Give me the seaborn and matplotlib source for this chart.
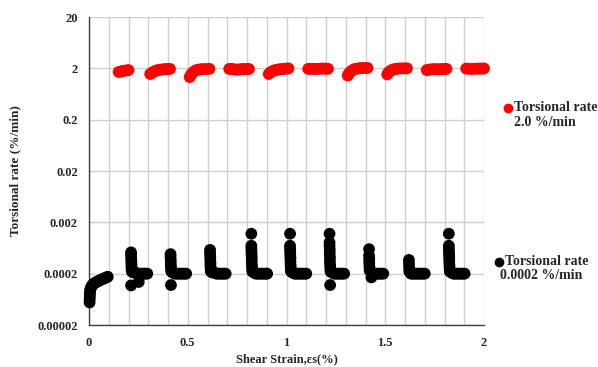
import numpy as np
import pandas as pd
import matplotlib
matplotlib.use("Agg")
import matplotlib.pyplot as plt
from matplotlib.lines import Line2D
from matplotlib.ticker import FixedLocator, MultipleLocator, NullLocator
import seaborn as sns

# ---------------- data ----------------
# fast torsional rate (2.0 %/min) segments
fast_strain = [
    0.150, 0.160, 0.170, 0.180, 0.190, 0.200,
    0.310, 0.320, 0.330, 0.340, 0.350, 0.360, 0.370, 0.380, 0.390, 0.400, 0.410,
    0.510, 0.515, 0.520, 0.530, 0.540, 0.550, 0.560, 0.570, 0.580, 0.595, 0.610,
    0.710, 0.720, 0.730, 0.740, 0.750, 0.760, 0.770, 0.780, 0.790, 0.800, 0.810,
    0.910, 0.920, 0.930, 0.940, 0.950, 0.960, 0.970, 0.980, 0.990, 1.000, 1.010,
    1.110, 1.120, 1.130, 1.140, 1.150, 1.160, 1.170, 1.180, 1.190, 1.200, 1.210,
    1.310, 1.315, 1.320, 1.330, 1.340, 1.350, 1.360, 1.370, 1.380, 1.395, 1.410,
    1.510, 1.515, 1.520, 1.530, 1.540, 1.550, 1.560, 1.570, 1.580, 1.595, 1.610,
    1.710, 1.720, 1.730, 1.740, 1.750, 1.760, 1.770, 1.780, 1.790, 1.800, 1.810,
    1.910, 1.920, 1.930, 1.940, 1.950, 1.960, 1.970, 1.980, 1.990, 2.000,
]
fast_rate = [
    1.70, 1.72, 1.78, 1.80, 1.82, 1.85,
    1.55, 1.65, 1.74, 1.80, 1.85, 1.88, 1.90, 1.92, 1.93, 1.94, 1.95,
    1.35, 1.46, 1.58, 1.72, 1.82, 1.87, 1.90, 1.92, 1.93, 1.94, 1.95,
    1.95, 1.95, 1.93, 1.90, 1.88, 1.90, 1.92, 1.94, 1.95, 1.95, 1.94,
    1.55, 1.68, 1.77, 1.83, 1.87, 1.90, 1.92, 1.94, 1.96, 1.98, 1.99,
    1.95, 1.96, 1.96, 1.95, 1.94, 1.96, 1.97, 1.98, 1.98, 1.97, 1.96,
    1.45, 1.55, 1.67, 1.80, 1.90, 1.95, 1.98, 2.01, 2.02, 2.03, 2.03,
    1.52, 1.62, 1.72, 1.83, 1.90, 1.94, 1.97, 1.98, 1.99, 2.00, 2.00,
    1.85, 1.88, 1.90, 1.92, 1.93, 1.92, 1.90, 1.92, 1.94, 1.95, 1.95,
    1.98, 1.97, 1.96, 1.95, 1.96, 1.97, 1.98, 1.97, 1.98, 1.99,
]

# slow torsional rate (0.0002 %/min) segments
slow_strain = [
    # 0 - 0.1
    0.003, 0.003, 0.004, 0.004, 0.005, 0.006, 0.008, 0.011, 0.015, 0.020,
    0.026, 0.033, 0.040, 0.048, 0.056, 0.064, 0.072, 0.080, 0.088, 0.095,
    # 0.2 - 0.3
    0.213, 0.213, 0.214, 0.214, 0.215, 0.215, 0.216, 0.217, 0.225, 0.235,
    0.245, 0.255, 0.265, 0.275, 0.285, 0.295, 0.213, 0.252,
    # 0.4 - 0.5
    0.413, 0.413, 0.414, 0.414, 0.415, 0.416, 0.417, 0.425, 0.435, 0.445,
    0.455, 0.465, 0.475, 0.485, 0.492, 0.415,
    # 0.6 - 0.7
    0.613, 0.613, 0.614, 0.614, 0.615, 0.615, 0.616, 0.617, 0.625, 0.635,
    0.645, 0.655, 0.665, 0.675, 0.685, 0.692,
    # 0.8 - 0.9
    0.822, 0.822, 0.822, 0.823, 0.823, 0.824, 0.824, 0.825, 0.826, 0.827,
    0.835, 0.845, 0.855, 0.865, 0.875, 0.885, 0.895, 0.902,
    # 1.0 - 1.1
    1.018, 1.018, 1.018, 1.019, 1.019, 1.020, 1.020, 1.021, 1.022, 1.023,
    1.031, 1.041, 1.051, 1.061, 1.071, 1.081, 1.091, 1.100,
    # 1.2 - 1.3
    1.218, 1.218, 1.218, 1.219, 1.219, 1.220, 1.220, 1.221, 1.222, 1.223,
    1.231, 1.241, 1.251, 1.261, 1.271, 1.281, 1.292, 1.221,
    # 1.4 - 1.5
    1.418, 1.418, 1.419, 1.419, 1.420, 1.421, 1.430, 1.440, 1.450, 1.460,
    1.470, 1.480, 1.490,
    # 1.6 - 1.7
    1.620, 1.620, 1.621, 1.622, 1.630, 1.640, 1.650, 1.660, 1.670, 1.680,
    1.690, 1.700,
    # 1.8 - 1.9
    1.822, 1.822, 1.822, 1.823, 1.823, 1.824, 1.824, 1.825, 1.826, 1.827,
    1.835, 1.845, 1.855, 1.865, 1.875, 1.885, 1.895, 1.902,
]
slow_rate = [
    # 0 - 0.1
    0.000055, 0.000062, 0.000070, 0.000078, 0.000086, 0.000094, 0.000102, 0.000110, 0.000117, 0.000123,
    0.000129, 0.000134, 0.000139, 0.000144, 0.000149, 0.000154, 0.000159, 0.000164, 0.000169, 0.000174,
    # 0.2 - 0.3
    0.00052, 0.00046, 0.00040, 0.00035, 0.00031, 0.00027, 0.00024, 0.00022, 0.00021, 0.00021,
    0.00020, 0.00020, 0.00020, 0.00020, 0.00020, 0.00020, 0.000118, 0.000138,
    # 0.4 - 0.5
    0.00048, 0.00042, 0.00036, 0.00031, 0.00027, 0.00024, 0.00022, 0.00021, 0.00020, 0.00020,
    0.00020, 0.00020, 0.00020, 0.00020, 0.00020, 0.000120,
    # 0.6 - 0.7
    0.00058, 0.00050, 0.00043, 0.00037, 0.00032, 0.00028, 0.00025, 0.00022, 0.00021, 0.00021,
    0.00020, 0.00020, 0.00020, 0.00020, 0.00020, 0.00020,
    # 0.8 - 0.9
    0.00120, 0.00070, 0.00061, 0.00053, 0.00046, 0.00040, 0.00034, 0.00029, 0.00025, 0.00022,
    0.00021, 0.00020, 0.00020, 0.00020, 0.00020, 0.00020, 0.00020, 0.00020,
    # 1.0 - 1.1
    0.00120, 0.00070, 0.00061, 0.00053, 0.00046, 0.00040, 0.00034, 0.00029, 0.00025, 0.00022,
    0.00021, 0.00020, 0.00020, 0.00020, 0.00020, 0.00020, 0.00020, 0.00020,
    # 1.2 - 1.3
    0.00120, 0.00081, 0.00069, 0.00058, 0.00049, 0.00041, 0.00034, 0.00029, 0.00025, 0.00022,
    0.00021, 0.00020, 0.00020, 0.00020, 0.00020, 0.00020, 0.00020, 0.000120,
    # 1.4 - 1.5
    0.00060, 0.00045, 0.00038, 0.00032, 0.00027, 0.00023, 0.000169, 0.00019, 0.00020, 0.00020,
    0.00020, 0.00020, 0.00020,
    # 1.6 - 1.7
    0.00037, 0.00031, 0.00026, 0.00022, 0.00020, 0.00020, 0.00020, 0.00020, 0.00020, 0.00020,
    0.00020, 0.00020,
    # 1.8 - 1.9
    0.00120, 0.00070, 0.00061, 0.00053, 0.00046, 0.00040, 0.00034, 0.00029, 0.00025, 0.00022,
    0.00021, 0.00020, 0.00020, 0.00020, 0.00020, 0.00020, 0.00020, 0.00020,
]

y_ticks = [0.00002, 0.0002, 0.002, 0.02, 0.2, 2, 20]
y_tick_labels = ["0.00002", "0.0002", "0.002", "0.02", "0.2", "2", "20"]
x_ticks = [0, 0.5, 1, 1.5, 2]
x_tick_labels = ["0", "0.5", "1", "1.5", "2"]
series_names = ["Torsional rate\n2.0 %/min", "Torsional rate\n0.0002 %/min"]
series_colors = ["#ff0000", "#000000"]

df = pd.concat([
    pd.DataFrame({"strain": fast_strain, "rate": fast_rate, "series": series_names[0]}),
    pd.DataFrame({"strain": slow_strain, "rate": slow_rate, "series": series_names[1]}),
])

# ---------------- plotting ----------------
sns.set_theme(style="white")
plt.rcParams["font.family"] = ["Liberation Serif", "DejaVu Serif"]
plt.rcParams["font.weight"] = "bold"

W, H = 598, 367
fig = plt.figure(figsize=(W / 100, H / 100), dpi=100)
ax_left, ax_right, ax_top, ax_bottom = 89, 484, 17, 325
ax = fig.add_axes([ax_left / W, 1 - ax_bottom / H,
                   (ax_right - ax_left) / W, (ax_bottom - ax_top) / H])

sns.scatterplot(data=df, x="strain", y="rate", hue="series",
                palette=dict(zip(series_names, series_colors)),
                s=72, linewidth=0, edgecolor="none", legend=False, ax=ax,
                zorder=3, clip_on=False)

ax.set_yscale("log")
ax.set_ylim(2e-5, 20)
ax.set_xlim(0, 2)
ax.yaxis.set_major_locator(FixedLocator(y_ticks))
ax.set_yticklabels(y_tick_labels)
ax.yaxis.set_minor_locator(NullLocator())
ax.set_xticks(x_ticks)
ax.set_xticklabels(x_tick_labels)
ax.xaxis.set_minor_locator(MultipleLocator(0.1))

grid_color = "#d0d0d0"
ax.grid(True, which="major", axis="both", color=grid_color, lw=1.0)
ax.grid(True, which="minor", axis="x", color=grid_color, lw=1.0)
ax.set_axisbelow(True)

for side in ["top", "right"]:
    ax.spines[side].set_visible(False)
for side in ["left", "bottom"]:
    ax.spines[side].set_color("#404040")
    ax.spines[side].set_linewidth(1.0)

ax.tick_params(axis="y", which="major", direction="out", length=5, width=1,
               color="#404040", labelsize=9, pad=3)
ax.tick_params(axis="x", which="major", direction="inout", length=6, width=1,
               color="#404040", labelsize=9, pad=6)
ax.tick_params(axis="x", which="minor", direction="in", length=3, width=0.8,
               color="#808080")
for lab in ax.get_xticklabels() + ax.get_yticklabels():
    lab.set_fontweight("bold")

ax.set_xlabel("Shear Strain,εs(%)", fontsize=9, fontweight="bold")
ax.set_ylabel("Torsional rate (%/min)", fontsize=9.5, fontweight="bold")
ax.xaxis.set_label_coords(0.5, (ax_bottom - 359) / (ax_bottom - ax_top))
ax.xaxis.label.set_va("center")
ax.yaxis.set_label_coords((15 - ax_left) / (ax_right - ax_left), 0.5)
ax.yaxis.label.set_va("center")

# ---------------- legends ----------------
def fx(px):
    return px / W

def fy(py):
    return 1 - py / H

fig.add_artist(Line2D([fx(508)], [fy(107.5)], marker="o", color=series_colors[0],
                      markersize=6, linestyle="none", transform=fig.transFigure))
fig.text(fx(514), fy(107.5), "Torsional rate", fontsize=10, fontweight="bold",
         va="center", ha="left")
fig.text(fx(514), fy(122.5), "2.0 %/min", fontsize=10, fontweight="bold",
         va="center", ha="left")

fig.add_artist(Line2D([fx(499)], [fy(261.5)], marker="o", color=series_colors[1],
                      markersize=6, linestyle="none", transform=fig.transFigure))
fig.text(fx(505), fy(261.5), "Torsional rate", fontsize=10, fontweight="bold",
         va="center", ha="left")
fig.text(fx(541), fy(275.5), "0.0002 %/min", fontsize=10, fontweight="bold",
         va="center", ha="center")

fig.savefig("out.png", dpi=100)
